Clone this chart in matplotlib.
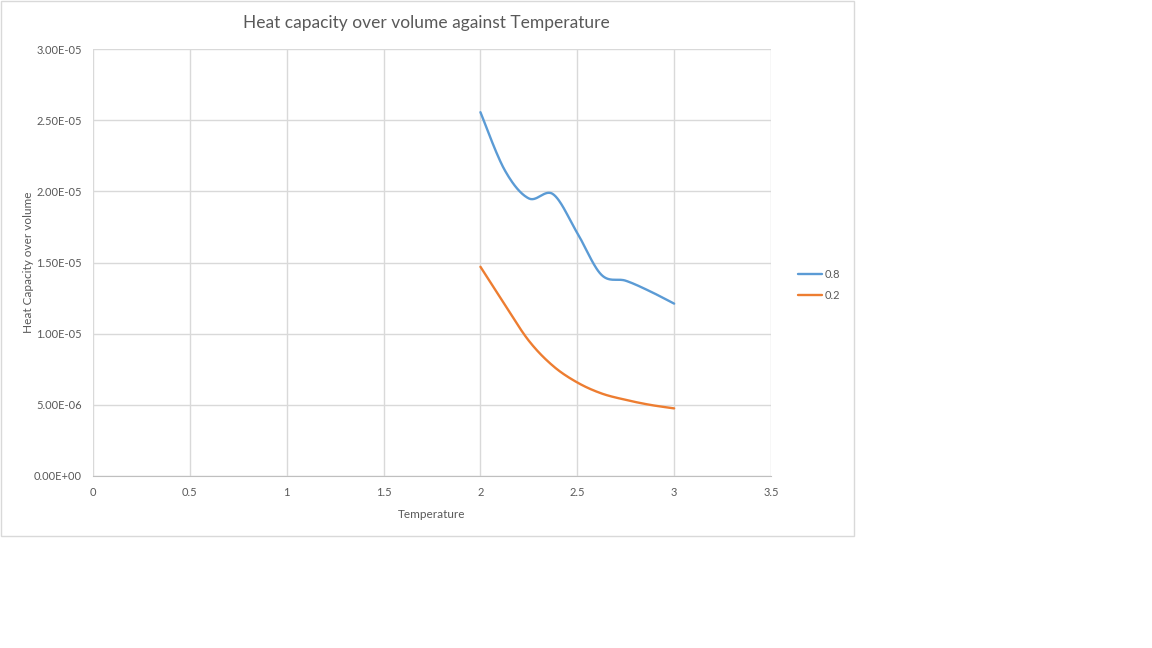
import numpy as np
import matplotlib.pyplot as plt
from matplotlib.patches import Rectangle

# values
temperature = [2.0, 2.125, 2.25, 2.375, 2.5, 2.625, 2.75, 2.875, 3.0]
c_08 = [2.556e-5, 2.15e-5, 1.95e-5, 1.98e-5, 1.707e-5,
        1.413e-5, 1.372e-5, 1.298e-5, 1.211e-5]
c_02 = [1.470e-5, 1.205e-5, 0.95e-5, 0.773e-5, 0.657e-5,
        0.58e-5, 0.535e-5, 0.50e-5, 0.475e-5]
series_names = ["0.8", "0.2"]
colors = ["#5b9bd5", "#ed7d31"]
xticks = [0, 0.5, 1, 1.5, 2, 2.5, 3, 3.5]
yticks = [0, 5e-6, 1e-5, 1.5e-5, 2e-5, 2.5e-5, 3e-5]


def smooth(x, y, n=30):
    # excel style smoothed line: bezier segments with catmull-rom control points
    x = np.asarray(x, float)
    y = np.asarray(y, float)
    pts = np.column_stack([x, y])
    out = []
    for i in range(len(pts) - 1):
        p0 = pts[max(i - 1, 0)]
        p1 = pts[i]
        p2 = pts[i + 1]
        p3 = pts[min(i + 2, len(pts) - 1)]
        c1 = p1 + (p2 - p0) / 6.0
        c2 = p2 - (p3 - p1) / 6.0
        t = np.linspace(0, 1, n)[:, None]
        seg = ((1 - t) ** 3 * p1 + 3 * (1 - t) ** 2 * t * c1
               + 3 * (1 - t) * t ** 2 * c2 + t ** 3 * p2)
        out.append(seg if i == 0 else seg[1:])
    out = np.vstack(out)
    return out[:, 0], out[:, 1]


plt.rcParams['font.family'] = ['Lato', 'DejaVu Sans']
W, H = 1152, 648
fig = plt.figure(figsize=(W / 100, H / 100), dpi=100)
fig.patch.set_facecolor("white")

# chart area border
fig.patches.append(Rectangle((0.5 / W, 1 - 535.5 / H), 853 / W, 535 / H,
                             transform=fig.transFigure, fill=False,
                             edgecolor="#d9d9d9", linewidth=1))

ax = fig.add_axes([93 / W, 1 - 476 / H, (771 - 93) / W, (476 - 49) / H])
for name, vals, col in zip(series_names, [c_08, c_02], colors):
    sx, sy = smooth(temperature, vals)
    ax.plot(sx, sy, color=col, linewidth=1.7, label=name, solid_capstyle="round")

ax.set_xlim(0, 3.5)
ax.set_ylim(0, 3e-5)
ax.set_xticks(xticks)
ax.set_xticklabels(["%g" % v for v in xticks])
ax.set_yticks(yticks)
ax.set_yticklabels(["%.2E" % v for v in yticks])
ax.grid(True, color="#d9d9d9", linewidth=1)
ax.set_axisbelow(True)
for s in ["top", "right", "left"]:
    ax.spines[s].set_visible(False)
ax.spines["bottom"].set_color("#bfbfbf")
ax.tick_params(length=0, labelsize=8, colors="#595959", pad=8)

ax.set_xlabel("Temperature", fontsize=8.5, color="#595959", labelpad=8)
ax.set_ylabel("Heat Capacity over volume", fontsize=8.5, color="#595959")
ax.yaxis.set_label_coords((34 - 93) / 678, 0.5)
fig.text(426 / W, 1 - 23 / H, "Heat capacity over volume against Temperature",
         fontsize=12.5, color="#595959", ha="center", va="center")

ax.legend(loc="center left", bbox_to_anchor=(788 / W, 1 - 285 / H),
          bbox_transform=fig.transFigure, frameon=False, fontsize=8,
          labelcolor="#595959", handlelength=2.2, handletextpad=0.2,
          labelspacing=0.9)

fig.savefig("out.png", dpi=100)
